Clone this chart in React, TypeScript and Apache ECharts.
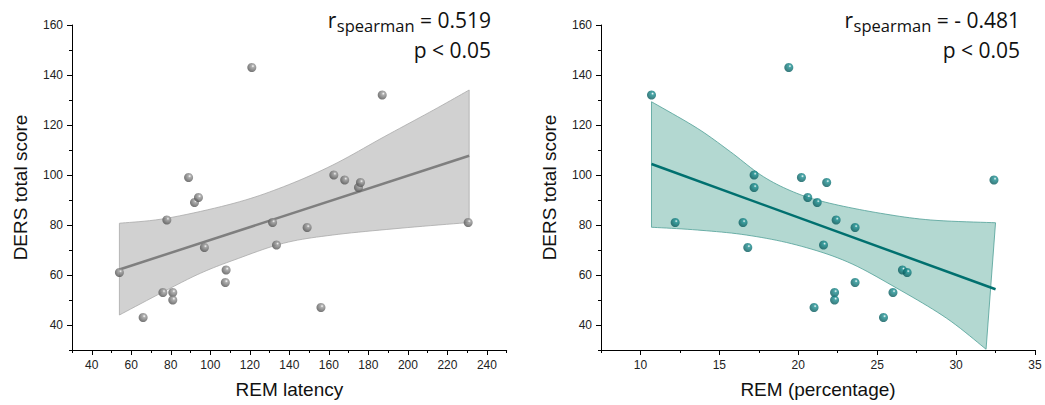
import React, { useEffect, useRef } from "react";
import * as echarts from "echarts";

// Left panel: REM latency vs DERS total score
const leftX = [54, 66, 76, 78, 81, 81, 89, 92, 94, 97, 107.6, 108, 121, 131.5, 133.5, 149, 156, 162.5, 168, 175, 176, 187, 230.5];
const leftY = [61, 43, 53, 82, 53, 50, 99, 89, 91, 71, 57, 62, 143, 81, 72, 79, 47, 100, 98, 95, 97, 132, 81];
const leftFitX = [54, 231];
const leftFitY = [62.2, 107.7];
const leftUpperX = [54, 78, 112, 137, 162, 188, 213, 231];
const leftUpperY = [80.7, 82.7, 88.7, 95.3, 104, 115.3, 126, 134];
const leftLowerX = [54, 78, 95, 112, 137, 162, 196, 231];
const leftLowerY = [44, 54, 60.7, 66, 72.7, 76, 78.7, 81];

// Right panel: REM percentage vs DERS total score
const rightX = [10.7, 19.4, 17.2, 17.2, 20.2, 21.8, 32.4, 12.2, 16.5, 16.8, 20.6, 21.2, 21.6, 22.4, 22.3, 22.3, 21.0, 23.6, 23.6, 25.4, 26.0, 26.6, 26.9];
const rightY = [132, 143, 100, 95, 99, 97, 98, 81, 81, 71, 91, 89, 72, 82, 53, 50, 47, 79, 57, 43, 53, 62, 61];
const rightFitX = [10.7, 32.5];
const rightFitY = [104.4, 54.3];
const rightUpperX = [10.7, 13.6, 15.7, 17.8, 19.9, 22.0, 25.2, 28.4, 32.5];
const rightUpperY = [129.3, 118.7, 109.3, 99.3, 92.7, 88.7, 84.7, 82, 80.9];
const rightLowerX = [10.7, 13.6, 16.7, 19.9, 23.1, 26.25, 29.4, 31.9];
const rightLowerY = [79.1, 78, 76, 72, 65.3, 54.7, 42.7, 30.3];

// Axis ticks
const leftXMajor = [40, 60, 80, 100, 120, 140, 160, 180, 200, 220, 240];
const leftXMinor = [30, 50, 70, 90, 110, 130, 150, 170, 190, 210, 230, 250];
const rightXMajor = [10, 15, 20, 25, 30, 35];
const rightXMinor = [7.5, 12.5, 17.5, 22.5, 27.5, 32.5];
const yMajor = [40, 60, 80, 100, 120, 140, 160];
const yMinor = [30, 50, 70, 90, 110, 130, 150];

const yTitle = "DERS total score";
const leftXTitle = "REM latency";
const rightXTitle = "REM (percentage)";
const leftStat = ["0.519", "p < 0.05"];
const rightStat = ["- 0.481", "p < 0.05"];

const pairs = (xs: number[], ys: number[]) => xs.map((x, i) => [x, ys[i]]);

// Catmull-Rom smoothing of pixel points (drawing only)
function smoothPath(pts: number[][]) {
  const out: number[][] = [];
  const n = pts.length;
  for (let i = 0; i < n - 1; i++) {
    const p0 = pts[Math.max(0, i - 1)];
    const p1 = pts[i];
    const p2 = pts[i + 1];
    const p3 = pts[Math.min(n - 1, i + 2)];
    const steps = 10;
    for (let s = 0; s < steps; s++) {
      const t = s / steps;
      const t2 = t * t;
      const t3 = t2 * t;
      const f = (a: number, b: number, c: number, d: number) =>
        0.5 * (2 * b + (-a + c) * t + (2 * a - 5 * b + 4 * c - d) * t2 + (-a + 3 * b - 3 * c + d) * t3);
      out.push([f(p0[0], p1[0], p2[0], p3[0]), f(p0[1], p1[1], p2[1], p3[1])]);
    }
  }
  out.push(pts[n - 1]);
  return out;
}

function bandSeries(idx: number, ux: number[], uy: number[], lx: number[], ly: number[], fill: string, stroke: string) {
  const upper = pairs(ux, uy);
  const lower = pairs(lx, ly);
  return {
    type: "custom",
    xAxisIndex: idx,
    yAxisIndex: idx,
    silent: true,
    z: 1,
    data: [[ux[0], uy[0]]],
    renderItem: (_p: any, api: any) => {
      const up = smoothPath(upper.map((d) => api.coord(d)));
      const lo = smoothPath(lower.map((d) => api.coord(d))).reverse();
      return {
        type: "polygon",
        shape: { points: up.concat(lo) },
        style: { fill, stroke, lineWidth: 0.8 },
      };
    },
  };
}

const FONT = "Liberation Sans, Arial, sans-serif";
const tickLabel = { color: "#222", fontSize: 12, fontFamily: FONT };
const nameStyle = { color: "#111", fontSize: 19, fontFamily: FONT };
const axisLine = { show: true, lineStyle: { color: "#000", width: 1 } };

function ball(main: string, dark: string) {
  return {
    type: "radial",
    x: 0.62,
    y: 0.35,
    r: 0.75,
    colorStops: [
      { offset: 0, color: "#ffffff" },
      { offset: 0.22, color: main },
      { offset: 0.8, color: dark },
      { offset: 1, color: dark },
    ],
  };
}

const STAT_FONT = "Open Sans";
const MAIN_SIZE = 21;
const SUB_SIZE = 16.5;

function measure(text: string, size: number) {
  const c = document.createElement("canvas").getContext("2d")!;
  c.font = `${size}px "${STAT_FONT}"`;
  return c.measureText(text).width;
}

function statText(right: number, value: string, p: string) {
  const mainTail = " = " + value;
  const wTail = measure(mainTail, MAIN_SIZE);
  const wSub = measure("spearman", SUB_SIZE);
  const base = { fill: "#111", fontFamily: STAT_FONT, verticalAlign: "middle", align: "right" };
  return [
    { type: "text", x: right, y: 20, style: { ...base, text: mainTail, fontSize: MAIN_SIZE } },
    { type: "text", x: right - wTail, y: 25.5, style: { ...base, text: "spearman", fontSize: SUB_SIZE } },
    { type: "text", x: right - wTail - wSub - 0.5, y: 20, style: { ...base, text: "r", fontSize: MAIN_SIZE } },
    { type: "text", x: right, y: 50, style: { ...base, text: p, fontSize: MAIN_SIZE } },
  ];
}

function mainX(grid: number, min: number, max: number, name: string, majors: number[]) {
  return {
    gridIndex: grid,
    type: "value",
    position: "bottom",
    min,
    max,
    name,
    nameLocation: "middle",
    nameGap: 30,
    nameTextStyle: nameStyle,
    axisLine,
    axisTick: { show: true, inside: false, length: 5, customValues: majors, lineStyle: { color: "#000" } },
    axisLabel: { ...tickLabel, margin: 9, customValues: majors },
    splitLine: { show: false },
  };
}

function minorX(grid: number, min: number, max: number, minors: number[]) {
  return {
    gridIndex: grid,
    type: "value",
    position: "bottom",
    min,
    max,
    axisLine: { show: false },
    axisTick: { show: true, inside: false, length: 3, customValues: minors, lineStyle: { color: "#000" } },
    axisLabel: { show: false },
    splitLine: { show: false },
  };
}

function mainY(grid: number) {
  return {
    gridIndex: grid,
    type: "value",
    position: "left",
    min: 30,
    max: 160,
    name: yTitle,
    nameLocation: "middle",
    nameGap: 42,
    nameTextStyle: nameStyle,
    axisLine,
    axisTick: { show: true, inside: false, length: 5, customValues: yMajor, lineStyle: { color: "#000" } },
    axisLabel: { ...tickLabel, margin: 9, customValues: yMajor },
    splitLine: { show: false },
  };
}

function minorY(grid: number) {
  return {
    gridIndex: grid,
    type: "value",
    position: "left",
    min: 30,
    max: 160,
    axisLine: { show: false },
    axisTick: { show: true, inside: false, length: 3, customValues: yMinor, lineStyle: { color: "#000" } },
    axisLabel: { show: false },
    splitLine: { show: false },
  };
}

export default function App() {
  const ref = useRef<HTMLDivElement>(null);
  useEffect(() => {
    document.body.style.margin = "0";
    const chart = echarts.init(ref.current!, undefined, { renderer: "svg" });
    const option: any = {
      animation: false,
      backgroundColor: "#fff",
      grid: [
        { left: 72, top: 25, width: 434.7, height: 325 },
        { left: 601, top: 25, width: 434, height: 325 },
      ],
      xAxis: [
        mainX(0, 30, 250, leftXTitle, leftXMajor),
        mainX(1, 7.5, 35, rightXTitle, rightXMajor),
        minorX(0, 30, 250, leftXMinor),
        minorX(1, 7.5, 35, rightXMinor),
      ],
      yAxis: [mainY(0), mainY(1), minorY(0), minorY(1)],
      series: [
        bandSeries(0, leftUpperX, leftUpperY, leftLowerX, leftLowerY, "#d1d1d1", "#a9a9a9"),
        {
          type: "line",
          xAxisIndex: 0,
          yAxisIndex: 0,
          data: pairs(leftFitX, leftFitY),
          showSymbol: false,
          silent: true,
          z: 2,
          lineStyle: { color: "#7f7f7f", width: 2.5 },
        },
        {
          type: "scatter",
          xAxisIndex: 0,
          yAxisIndex: 0,
          data: pairs(leftX, leftY),
          symbolSize: 9,
          z: 3,
          itemStyle: { color: ball("#9a9a9a", "#5a5a5a") },
        },
        bandSeries(1, rightUpperX, rightUpperY, rightLowerX, rightLowerY, "#b3d8d1", "#4f9f97"),
        {
          type: "line",
          xAxisIndex: 1,
          yAxisIndex: 1,
          data: pairs(rightFitX, rightFitY),
          showSymbol: false,
          silent: true,
          z: 2,
          lineStyle: { color: "#00706f", width: 2.5 },
        },
        {
          type: "scatter",
          xAxisIndex: 1,
          yAxisIndex: 1,
          data: pairs(rightX, rightY),
          symbolSize: 9,
          z: 3,
          itemStyle: { color: ball("#1c8f91", "#0a5e60") },
        },
      ],
      graphic: [...statText(491, leftStat[0], leftStat[1]), ...statText(1020, rightStat[0], rightStat[1])],
    };
    chart.setOption(option);
    return () => chart.dispose();
  }, []);
  return <div ref={ref} style={{ width: 1045, height: 405 }} />;
}
